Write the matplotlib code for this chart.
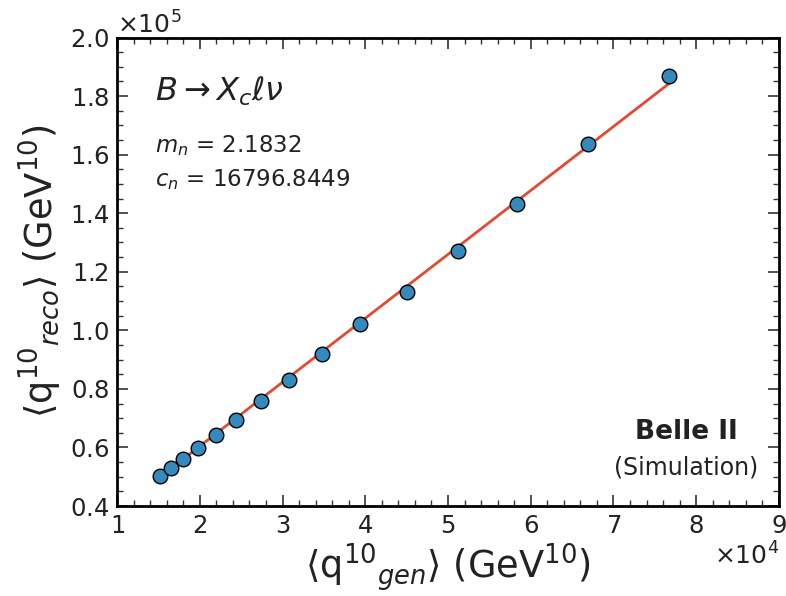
import matplotlib.pyplot as plt
import numpy as np

# mean q^10 : generated vs reconstructed, per q2 threshold
q10_gen = np.array([1.524, 1.657, 1.802, 1.975, 2.192, 2.437, 2.739, 3.082,
                    3.480, 3.931, 4.499, 5.123, 5.839, 6.689, 7.672]) * 1e4
q10_reco = np.array([0.502, 0.530, 0.561, 0.599, 0.642, 0.694, 0.757, 0.829,
                     0.918, 1.020, 1.132, 1.270, 1.433, 1.636, 1.868]) * 1e5

# linear calibration
m_n = 2.1832
c_n = 16796.8449

fig = plt.figure(figsize=(7.86, 5.96), dpi=100)
ax = fig.add_axes([0.149, 0.151, 0.842, 0.786])

x_fit = np.linspace(q10_gen.min(), q10_gen.max(), 100)
ax.plot(x_fit, m_n * x_fit + c_n, color='#E24A33', lw=2, zorder=2)
ax.plot(q10_gen, q10_reco, 'o', color='#348ABD', mec='black', mew=1,
        ms=10.5, zorder=3)

ax.set_xlim(1e4, 9e4)
ax.set_ylim(0.4e5, 2.0e5)
ax.set_xticks(np.arange(1e4, 9.1e4, 1e4))
ax.set_yticks(np.arange(0.4e5, 2.01e5, 0.2e5))
ax.minorticks_on()
ax.ticklabel_format(style='sci', scilimits=(0, 0), useMathText=True)
ax.xaxis.get_offset_text().set_fontsize(18)
ax.yaxis.get_offset_text().set_fontsize(18)
ax.xaxis.get_offset_text().set_color('#222222')
ax.yaxis.get_offset_text().set_color('#222222')

ax.tick_params(which='both', direction='in', top=True, right=True,
               labelsize=17.5, color='#333333', labelcolor='#222222')
ax.tick_params(which='major', length=8, width=1.2, pad=6)
ax.tick_params(which='minor', length=4, width=1)
for s in ax.spines.values():
    s.set_linewidth(2)

ax.set_xlabel(r'$\langle \mathrm{q}^{10}{}_{gen} \rangle$ (GeV$^{10}$)',
              fontsize=26.5, labelpad=2, color='#222222')
ax.set_ylabel(r'$\langle \mathrm{q}^{10}{}_{reco} \rangle$ (GeV$^{10}$)',
              fontsize=26.5, labelpad=4, color='#222222')

ax.text(0.057, 0.92, r'$B \rightarrow X_c \ell \nu$', transform=ax.transAxes,
        fontsize=23, va='top', color='#222222')
ax.text(0.057, 0.795, '$m_n$ = 2.1832\n$c_n$ = 16796.8449',
        transform=ax.transAxes, fontsize=16.5, va='top', linespacing=1.45,
        color='#222222')

ax.text(0.86, 0.158, 'Belle II', transform=ax.transAxes, fontsize=19,
        fontweight='bold', ha='center', va='center', color='#222222')
ax.text(0.86, 0.083, '(Simulation)', transform=ax.transAxes, fontsize=17,
        ha='center', va='center', color='#222222')

fig.savefig('out.png', dpi=100)
